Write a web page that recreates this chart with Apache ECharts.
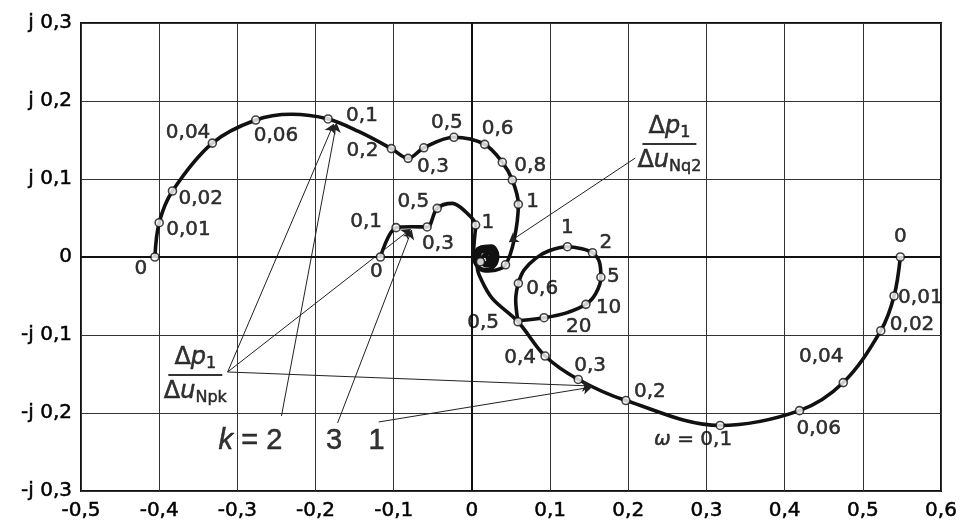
<!DOCTYPE html>
<html>
<head>
<meta charset="utf-8">
<script src="https://cdn.jsdelivr.net/npm/echarts@6.0.0/dist/echarts.min.js"></script>
<style>
html,body{margin:0;padding:0;background:#fff;}
#chart{width:968px;height:524px;}
</style>
</head>
<body>
<div id="chart"></div>
<script>
// ---- tick labels ----
const xTickValues = [-0.5,-0.4,-0.3,-0.2,-0.1,0,0.1,0.2,0.3,0.4,0.5,0.6];
const xTickLabels = ['-0,5','-0,4','-0,3','-0,2','-0,1','0','0,1','0,2','0,3','0,4','0,5','0,6'];
const yTickValues = [-0.3,-0.2,-0.1,0,0.1,0.2,0.3];
const yTickLabels = ['-j 0,3','-j 0,2','-j 0,1','0','j 0,1','j 0,2','j 0,3'];

// ---- curve k = 2 (upper large locus) ----
const curveK2 = [[-0.4055,0],[-0.400,0.044],[-0.383,0.0846],[-0.332,0.146],[-0.2765,0.1756],[-0.231,0.183],
  [-0.184,0.177],[-0.145,0.161],[-0.103,0.139],[-0.0816,0.1265],[-0.0615,0.140],[-0.023,0.1535],[0.0163,0.1444],
  [0.0389,0.1214],[0.0517,0.0987],[0.0594,0.0675],[0.054,0.022],[0.043,-0.010],
  [0.030,-0.017],[0.017,-0.018],[0.006,-0.011],[0.003,0.002],[0.010,0.012],[0.023,0.013],[0.031,0.004],
  [0.028,-0.008],[0.018,-0.011],[0.010,-0.004],[0.011,0.006],[0.020,0.007],[0.024,0.0],[0.018,-0.004]];
const marksK2 = [[-0.4055,0],[-0.400,0.044],[-0.383,0.0846],[-0.332,0.146],[-0.2765,0.1756],[-0.184,0.177],
  [-0.103,0.139],[-0.0816,0.1265],[-0.0615,0.140],[-0.023,0.1535],[0.0163,0.1444],[0.0389,0.1214],
  [0.0517,0.0987],[0.0594,0.0675],[0.043,-0.010]];
const labelsK2 = ['0','0,01','0,02','0,04','0,06','0,1','0,2','0,3','','0,5','0,6','','0,8','1',''];

// ---- curve k = 3 (small locus) ----
const curveK3 = [[-0.117,0],[-0.097,0.0376],[-0.077,0.0388],[-0.0573,0.0385],[-0.0444,0.0624],[-0.025,0.0688],
  [-0.0082,0.058],[0.0047,0.041],[0.003,0.02],
  [0.002,0.004],[0.006,-0.010],[0.017,-0.016],[0.029,-0.011],[0.033,0.002],[0.025,0.014],[0.011,0.012],
  [0.007,0.0],[0.014,-0.008],[0.024,-0.005],[0.024,0.005],[0.017,0.005]];
const marksK3 = [[-0.117,0],[-0.097,0.0376],[-0.0573,0.0385],[-0.0444,0.0624],[0.0047,0.041],[0.011,-0.006]];
const labelsK3 = ['0','0,1','0,3','0,5','1',''];

// ---- curve k = 1 (lower locus with loop) ----
const curveK1 = [[0.548,0],[0.540,-0.050],[0.523,-0.0945],[0.475,-0.161],[0.419,-0.197],[0.3175,-0.216],
  [0.197,-0.184],[0.136,-0.157],[0.0936,-0.127],[0.059,-0.083],[0.026,-0.053],[0.011,-0.027],[0.0068,-0.0124],
  [0.008,0.002],[0.015,0.010],[0.026,0.008],[0.028,-0.004],[0.019,-0.009],[0.013,-0.002],[0.017,0.003],[0.020,0.0]];
const loopK1 = [[0.059,-0.083],[0.056,-0.055],[0.0594,-0.0338],[0.0667,-0.0167],[0.0816,-0.0017],[0.0987,0.008],
  [0.1222,0.0132],[0.139,0.011],[0.1542,0.0055],[0.163,-0.006],[0.165,-0.026],[0.1585,-0.0466],[0.1458,-0.0607],
  [0.120,-0.072],[0.0923,-0.0778],[0.0594,-0.0817]];
const marksK1 = [[0.548,0],[0.540,-0.050],[0.523,-0.0945],[0.475,-0.161],[0.419,-0.197],[0.3175,-0.216],
  [0.197,-0.184],[0.136,-0.157],[0.0936,-0.127],[0.059,-0.083],[0.0594,-0.0338],[0.1222,0.0132],
  [0.1542,0.0055],[0.165,-0.026],[0.1458,-0.0607],[0.0923,-0.0778]];
const labelsK1 = ['0','0,01','0,02','0,04','0,06','{w|ω} = 0,1','0,2','0,3','0,4','0,5','0,6','1','2','5','10','20'];

// ---- annotation arrows [start, tip] ----
const arrows = [
  [[-0.3124,-0.1474],[-0.1769,0.1705]],
  [[-0.3124,-0.1474],[-0.0782,0.0359]],
  [[-0.3124,-0.1474],[0.1526,-0.1654]],
  [[-0.2436,-0.2038],[-0.1731,0.1718]],
  [[-0.1718,-0.2128],[-0.0769,0.0346]],
  [[-0.1192,-0.2115],[0.1538,-0.1667]],
  [[0.209,0.1269],[0.0474,0.0192]]
];
// ---- annotation texts ----
const fracNpk = [-0.3538,-0.1513];
const fracNq2 = [0.2526,0.1449];
const kTexts = [[-0.2833,-0.2359,'k'],[-0.1763,-0.2359,'3'],[-0.1218,-0.2359,'1']];

// ---- label placement (style) : [align, dx, dy] ----
const placeK2 = [['center',-14,12],['left',7,7],['left',6,8],['right',-2,-10],['left',-2,16],['left',18,-3],
  ['right',-13,2],['left',9,8],['left',0,0],['center',-7,-14],['left',-3,-16],['left',0,0],['left',2,-14],['left',8,-3],['left',0,0]];
const placeK3 = [['center',-4,15],['right',-14,-6],['left',-5,17],['right',-8,-7],['left',6,-2],['left',0,0]];
const placeK1 = [['center',0,-20],['left',4,2],['left',9,-6],['center',-22,-26],['left',-3,18],['right',12,14],
  ['left',8,-9],['left',-4,-14],['right',-9,2],['right',-19,1],['left',8,5],['center',0,-19],['left',7,-10],
  ['left',6,0],['left',10,3],['left',22,9]];

const FONT = 'DejaVu Sans';
const INK = '#000';
const STROKE = {textBorderColor:'#000', textBorderWidth:0.5};

function tickFmt(values, labels){
  return function(v){
    const i = values.findIndex(t => Math.abs(t - v) < 1e-6);
    return i >= 0 ? labels[i] : '';
  };
}
function lineSeries(data, extra){
  return Object.assign({type:'line', data:data, smooth:0.35, showSymbol:false, silent:true,
    lineStyle:{width:3.6, color:'#111'}, z:3}, extra||{});
}
function markSeries(marks, labels, place){
  return {type:'scatter', silent:true, z:6, symbol:'circle', symbolSize:8,
    itemStyle:{color:'#fff', borderColor:'#111', borderWidth:1.6},
    label:Object.assign({show:false, position:'inside', fontSize:20, color:INK, fontFamily:FONT, verticalAlign:'middle',
      rich:{w:Object.assign({fontSize:20, fontStyle:'italic', fontFamily:FONT, color:INK}, STROKE)}}, STROKE),
    data: marks.map((p,i)=>({value:p, label:{show: !!labels[i], formatter: labels[i], align: place[i][0], offset:[place[i][1], place[i][2]]}}))
  };
}
const fracRich = {
  D:Object.assign({fontSize:24, fontFamily:FONT, color:INK, lineHeight:28}, STROKE),
  it:Object.assign({fontSize:24, fontFamily:FONT, fontStyle:'italic', color:INK, lineHeight:28}, STROKE),
  s:Object.assign({fontSize:16, fontFamily:FONT, color:INK, lineHeight:12, verticalAlign:'bottom'}, STROKE),
  bar:{width:54, height:2, lineHeight:6, fontSize:2, backgroundColor:INK}
};

const chart = echarts.init(document.getElementById('chart'), null, {renderer:'canvas'});
chart.setOption({
  animation:false,
  backgroundColor:'#fff',
  grid:{left:81, right:27, top:23, bottom:33, show:true, borderColor:'#111', borderWidth:2},
  xAxis:{type:'value', min:-0.5, max:0.6, interval:0.1,
    axisLine:{show:false}, axisTick:{show:false},
    splitLine:{show:true, lineStyle:{color:'#333', width:1}},
    axisLabel:Object.assign({formatter:tickFmt(xTickValues, xTickLabels), fontSize:20, color:INK, fontFamily:FONT, margin:10}, STROKE)},
  yAxis:{type:'value', min:-0.3, max:0.3, interval:0.1,
    axisLine:{show:false}, axisTick:{show:false},
    splitLine:{show:true, lineStyle:{color:'#333', width:1}},
    axisLabel:Object.assign({formatter:tickFmt(yTickValues, yTickLabels), fontSize:20, color:INK, fontFamily:FONT, margin:9}, STROKE)},
  series:[
    lineSeries(curveK2, {markLine:{silent:true, symbol:'none', label:{show:false},
      lineStyle:{color:'#111', width:2, type:'solid'}, data:[{xAxis:0},{yAxis:0}]}}),
    lineSeries(curveK3),
    lineSeries(curveK1),
    lineSeries(loopK1),
    {type:'lines', coordinateSystem:'cartesian2d', silent:true, z:4,
      symbol:['none','arrow'], symbolSize:9,
      lineStyle:{color:'#222', width:1, curveness:0, opacity:1},
      data: arrows.map(a=>({coords:a}))},
    markSeries(marksK2, labelsK2, placeK2),
    markSeries(marksK3, labelsK3, placeK3),
    markSeries(marksK1, labelsK1, placeK1),
    {type:'scatter', silent:true, z:7, symbolSize:1, itemStyle:{color:'transparent'},
      label:{show:true, position:'inside', color:INK, fontFamily:FONT, rich:fracRich},
      data:[
        {value:fracNpk, label:{formatter:'{D|Δ}{it|p}{s|1}\n{bar| }\n{D|Δ}{it|u}{s|Npk}'}},
        {value:fracNq2, label:{formatter:'{D|Δ}{it|p}{s|1}\n{bar| }\n{D|Δ}{it|u}{s|Nq2}'}},
        {value:[kTexts[0][0],kTexts[0][1]], label:Object.assign({formatter:'{i|k} = 2', fontSize:29, fontFamily:'Liberation Sans', rich:{i:Object.assign({fontSize:29, fontStyle:'italic', fontFamily:'Liberation Sans', color:INK}, STROKE)}}, STROKE)},
        {value:[kTexts[1][0],kTexts[1][1]], label:Object.assign({formatter:kTexts[1][2], fontSize:29, fontFamily:'Liberation Sans'}, STROKE)},
        {value:[kTexts[2][0],kTexts[2][1]], label:Object.assign({formatter:kTexts[2][2], fontSize:29, fontFamily:'Liberation Sans'}, STROKE)}
      ]}
  ]
});
</script>
</body>
</html>
